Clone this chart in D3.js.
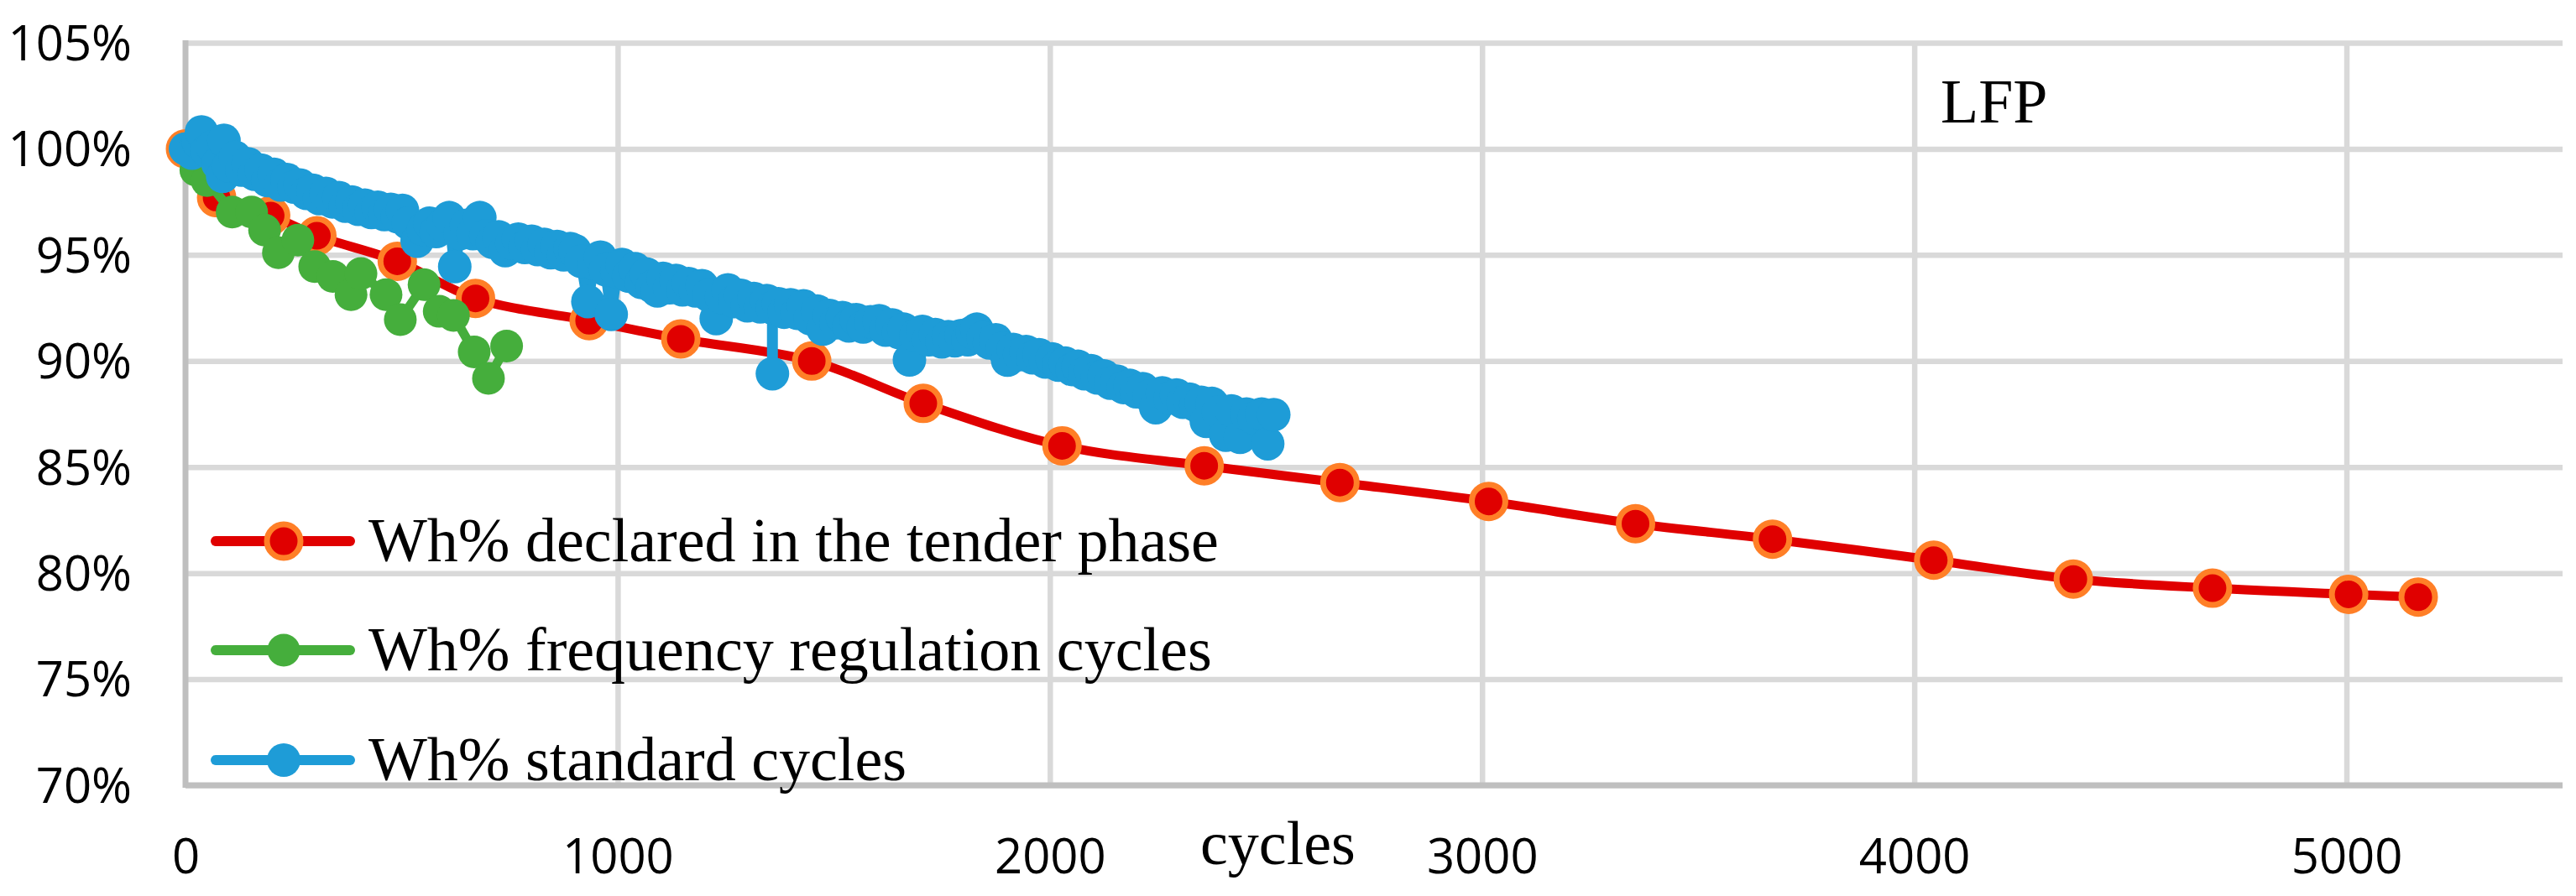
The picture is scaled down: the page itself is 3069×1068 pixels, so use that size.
<!DOCTYPE html>
<html>
<head>
<meta charset="utf-8">
<script src="https://cdn.jsdelivr.net/npm/d3@7"></script>
<style>
  body { margin: 0; background: #fff; }
  svg { display: block; }
</style>
</head>
<body>
<svg id="chart" width="3069" height="1068"></svg>
<script>
// values (cycles, Wh fraction in %)
var redCycles = [0, 72, 197, 304, 490, 671, 934, 1146, 1449, 1707, 2028, 2357, 2671, 3015, 3355, 3672, 4045, 4368, 4690, 5005, 5166];
var redWh = [100, 97.7, 96.85, 95.9, 94.7, 92.95, 91.9, 91.04, 90.0, 88.0, 86.0, 85.06, 84.27, 83.38, 82.33, 81.6, 80.61, 79.72, 79.29, 79.0, 78.87];

var greenCycles = [0, 24, 50, 108, 153, 183, 215, 260, 299, 341, 383, 406, 464, 497, 552, 587, 620, 668, 701, 743];
var greenWh = [100, 99.0, 98.5, 97.02, 97.02, 96.17, 95.1, 95.7, 94.45, 93.99, 93.13, 94.12, 93.13, 91.95, 93.6, 92.34, 92.15, 90.43, 89.18, 90.7];

var blueCycles = [0, 15, 30, 37, 50, 62, 75, 86, 89, 100,
  115, 130, 145, 160, 175, 190, 205, 220, 235, 251,
  265, 280, 295, 310, 325, 340, 355, 370, 385, 400,
  415, 430, 445, 460, 475, 490, 502, 515, 536, 550,
  565, 580, 595, 610, 623, 635, 650, 665, 681, 695,
  710, 725, 740, 755, 770, 785, 801, 815, 830, 845,
  860, 875, 890, 901, 915, 931, 945, 960, 972, 985,
  998, 1010, 1025, 1040, 1055, 1067, 1080, 1092, 1105, 1120,
  1135, 1150, 1164, 1180, 1195, 1210, 1228, 1240, 1255, 1270,
  1285, 1300, 1315, 1330, 1345, 1358, 1358, 1358, 1372, 1385,
  1400, 1415, 1430, 1445, 1462, 1475, 1490, 1505, 1520, 1535,
  1552, 1568, 1585, 1605, 1620, 1635, 1650, 1662, 1675, 1690,
  1705, 1720, 1735, 1750, 1765, 1780, 1795, 1810, 1820, 1831,
  1845, 1860, 1875, 1890, 1902, 1915, 1930, 1945, 1960, 1975,
  1990, 2005, 2020, 2035, 2051, 2065, 2080, 2095, 2110, 2125,
  2140, 2155, 2170, 2185, 2200, 2215, 2230, 2245, 2260, 2278,
  2293, 2308, 2323, 2338, 2350, 2362, 2375, 2390, 2407, 2420,
  2440, 2455, 2472, 2490, 2504, 2518];
var blueWh = [100.0, 99.8, 100.3, 100.8, 99.9, 100.1, 99.3, 98.7, 100.4, 99.2,
  99.6, 99.0, 99.3, 98.8, 99.0, 98.5, 98.8, 98.3, 98.55, 98.2,
  98.3, 97.9, 98.05, 97.65, 97.9, 97.5, 97.7, 97.3, 97.5, 97.15,
  97.35, 97.0, 97.25, 96.9, 97.15, 96.8, 97.1, 96.5, 95.65, 96.2,
  96.5, 96.1, 96.4, 96.76, 94.45, 96.0, 96.4, 96.0, 96.76, 95.9,
  95.6, 95.85, 95.2, 95.55, 95.75, 95.35, 95.65, 95.25, 95.5, 95.1,
  95.4, 95.0, 95.3, 95.2, 94.7, 92.8, 94.6, 94.9, 94.3, 92.2,
  94.2, 94.55, 94.0, 94.35, 93.7, 94.1, 93.5, 93.3, 93.9, 93.45,
  93.8, 93.35, 93.65, 93.3, 93.55, 93.1, 92.0, 93.0, 93.35, 92.8,
  93.1, 92.6, 92.95, 92.55, 92.85, 92.5, 89.4, 92.5, 92.7, 92.3,
  92.65, 92.25, 92.6, 92.0, 92.35, 91.5, 92.15, 91.8, 92.05, 91.65,
  91.95, 91.6, 91.85, 91.9, 91.45, 91.7, 91.35, 91.5, 90.05, 91.2,
  91.4, 91.0, 91.25, 90.9, 91.15, 90.95, 91.2, 91.0, 91.35, 91.5,
  91.1, 90.85, 91.0, 90.6, 90.04, 90.55, 90.3, 90.45, 90.15, 90.3,
  89.95, 90.1, 89.8, 89.9, 89.6, 89.75, 89.4, 89.55, 89.2, 89.3,
  88.95, 89.05, 88.75, 88.85, 88.55, 88.7, 88.35, 87.8, 88.5, 88.25,
  88.4, 88.05, 88.2, 87.9, 88.05, 87.15, 88.0, 87.6, 86.5, 87.65,
  86.4, 87.5, 87.3, 87.5, 86.1, 87.47];

var xTicks = [0, 1000, 2000, 3000, 4000, 5000];
var yTicks = [0.70, 0.75, 0.80, 0.85, 0.90, 0.95, 1.00, 1.05];
var seriesNames = ["Wh% declared in the tender phase", "Wh% frequency regulation cycles", "Wh% standard cycles"];

var plotLeft = 221, plotRight = 3053, plotTop = 51, plotBottom = 936;

var x = d3.scaleLinear().domain([0, 5500]).range([plotLeft, plotRight]);
var y = d3.scaleLinear().domain([0.70, 1.05]).range([plotBottom, plotTop]);

var svg = d3.select("#chart");

function toPoints(cs, vs) {
  return cs.map(function (c, i) { return { c: c, v: vs[i] / 100 }; });
}

var series = [
  { name: seriesNames[0], data: toPoints(redCycles, redWh), line: "#e00000", fill: "#e00000", ring: "#ff7f27", r: 20, curve: d3.curveCatmullRom.alpha(0.5), width: 11 },
  { name: seriesNames[1], data: toPoints(greenCycles, greenWh), line: "#45ae3c", fill: "#45ae3c", ring: null, r: 19.5, curve: d3.curveLinear, width: 11 },
  { name: seriesNames[2], data: toPoints(blueCycles, blueWh), line: "#1e9cd7", fill: "#1e9cd7", ring: null, r: 20, curve: d3.curveLinear, width: 13 }
];

// gridlines
svg.append("g")
  .attr("class", "hgrid")
  .attr("transform", "translate(" + plotLeft + ",0)")
  .call(d3.axisLeft(y).tickValues(yTicks).tickSize(-(plotRight - plotLeft)).tickFormat(""))
  .call(function (g) { g.select(".domain").remove(); })
  .selectAll("line").attr("stroke", "#d9d9d9").attr("stroke-width", 6.5);

svg.append("g")
  .attr("class", "vgrid")
  .attr("transform", "translate(0," + plotBottom + ")")
  .call(d3.axisBottom(x).tickValues(xTicks.slice(1)).tickSize(-(plotBottom - plotTop)).tickFormat(""))
  .call(function (g) { g.select(".domain").remove(); })
  .selectAll("line").attr("stroke", "#d9d9d9").attr("stroke-width", 6.5);

// axis lines
svg.append("line").attr("x1", plotLeft).attr("x2", plotLeft).attr("y1", plotTop - 3).attr("y2", plotBottom + 3)
  .attr("stroke", "#bfbfbf").attr("stroke-width", 7);
svg.append("line").attr("x1", plotLeft).attr("x2", plotRight).attr("y1", plotBottom).attr("y2", plotBottom)
  .attr("stroke", "#bfbfbf").attr("stroke-width", 7);

// tick labels
var yAx = svg.append("g")
  .attr("transform", "translate(" + plotLeft + ",0)")
  .call(d3.axisLeft(y).tickValues(yTicks).tickFormat(d3.format(".0%")).tickSize(0).tickPadding(64));
yAx.select(".domain").remove();
yAx.selectAll("text").attr("font-family", "'Open Sans', sans-serif").attr("font-size", 58).attr("fill", "#000").attr("dy", "0.35em");

var xAx = svg.append("g")
  .attr("transform", "translate(0," + plotBottom + ")")
  .call(d3.axisBottom(x).tickValues(xTicks).tickFormat(d3.format("d")).tickSize(0).tickPadding(64));
xAx.select(".domain").remove();
xAx.selectAll("text").attr("font-family", "'Open Sans', sans-serif").attr("font-size", 58).attr("fill", "#000");

svg.append("text").attr("x", 1430).attr("y", 1030)
  .attr("font-family", "'Liberation Serif', 'Times New Roman', serif").attr("font-size", 74)
  .text("cycles");

svg.append("text").attr("x", 2312).attr("y", 146)
  .attr("font-family", "'Liberation Serif', 'Times New Roman', serif").attr("font-size", 74)
  .text("LFP");

// series
series.forEach(function (s) {
  var line = d3.line()
    .x(function (d) { return x(d.c); })
    .y(function (d) { return y(d.v); })
    .curve(s.curve);

  svg.append("path")
    .datum(s.data)
    .attr("d", line)
    .attr("fill", "none")
    .attr("stroke", s.line)
    .attr("stroke-width", s.width)
    .attr("stroke-linejoin", "round")
    .attr("stroke-linecap", "round");

  svg.append("g").selectAll("circle")
    .data(s.data)
    .join("circle")
    .attr("cx", function (d) { return x(d.c); })
    .attr("cy", function (d) { return y(d.v); })
    .attr("r", s.r)
    .attr("fill", s.fill)
    .attr("stroke", s.ring || "none")
    .attr("stroke-width", s.ring ? 7 : 0);
});

// legend
var legendY = [645, 775, 906];
var lg = svg.append("g");
series.forEach(function (s, i) {
  var row = lg.append("g").attr("transform", "translate(0," + legendY[i] + ")");
  row.append("line").attr("x1", 257).attr("x2", 417).attr("y1", 0).attr("y2", 0)
    .attr("stroke", s.line).attr("stroke-width", 12).attr("stroke-linecap", "round");
  row.append("circle").attr("cx", 338).attr("cy", 0).attr("r", s.r)
    .attr("fill", s.fill).attr("stroke", s.ring || "none").attr("stroke-width", s.ring ? 7 : 0);
  row.append("text").attr("x", 439).attr("y", 23.5)
    .attr("font-family", "'Liberation Serif', 'Times New Roman', serif").attr("font-size", 74)
    .text(s.name);
});
</script>
</body>
</html>
